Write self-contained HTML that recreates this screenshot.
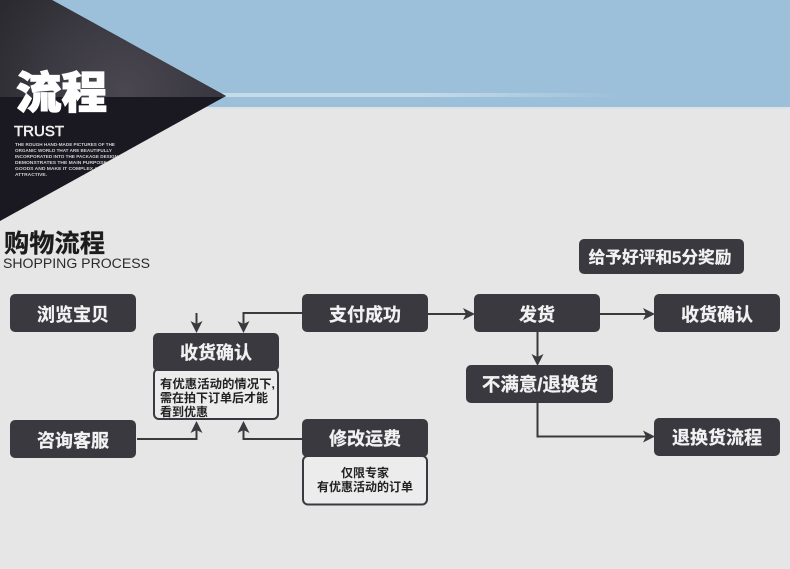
<!DOCTYPE html>
<html><head><meta charset="utf-8"><style>
html,body{margin:0;padding:0;background:#e6e6e6;width:790px;height:569px;overflow:hidden}
svg{display:block}
text{font-family:"Liberation Sans","Noto Sans CJK SC",sans-serif}
.b{font-weight:700;font-size:18px;fill:#f2f2f2;text-anchor:middle;stroke:#f2f2f2;stroke-width:.25px}
.n{font-weight:700;font-size:12px;fill:#222;}
.s{font-size:4.6px;fill:#cfcfd2;font-weight:700}
.box{fill:#3a3940}
.note{fill:#ececec;stroke:#3a3940;stroke-width:2}
.l{fill:none;stroke:#3a3a3e;stroke-width:2}
.a{fill:#3a3a3e}
</style></head><body>
<svg width="790" height="569" viewBox="0 0 790 569" xmlns="http://www.w3.org/2000/svg">
<defs>
<radialGradient id="g" gradientUnits="userSpaceOnUse" cx="125" cy="92" r="150">
<stop offset="0" stop-color="#4a4750"/><stop offset=".55" stop-color="#3a3840"/><stop offset="1" stop-color="#2b2a30"/>
</radialGradient>
<linearGradient id="st" x1="0" x2="1" y1="0" y2="0">
<stop offset="0" stop-color="#c4dbe9"/><stop offset=".5" stop-color="#c4dbe9"/><stop offset="1" stop-color="#9cc0d9"/>
</linearGradient>
<clipPath id="tri"><polygon points="0,0 52,0 226,96 0,221"/></clipPath>
</defs>
<rect width="790" height="569" fill="#e6e6e6"/>
<rect width="790" height="108" fill="#9cc0d9"/>
<rect y="107" width="790" height="2" fill="#dbe3e9"/>
<rect x="222" y="93" width="400" height="4" fill="url(#st)"/>
<polygon points="0,0 52,0 226,96 0,221" fill="#1a1820"/>
<polygon points="0,0 52,0 226,96 224,97 0,97" fill="url(#g)"/>
<text x="16" y="108" font-size="44" font-weight="900" fill="#fff" stroke="#fff" stroke-width="1.2" textLength="91" lengthAdjust="spacingAndGlyphs">流程</text>
<text x="14" y="136" font-size="15" fill="#eee" stroke="#eee" stroke-width=".6" textLength="50" lengthAdjust="spacingAndGlyphs">TRUST</text>
<g clip-path="url(#tri)">
<text class="s" x="15" y="146" textLength="100" lengthAdjust="spacingAndGlyphs">THE ROUGH HAND-MADE PICTURES OF THE</text>
<text class="s" x="15" y="152" textLength="97" lengthAdjust="spacingAndGlyphs">ORGANIC WORLD THAT ARE BEAUTIFULLY</text>
<text class="s" x="15" y="158" textLength="103" lengthAdjust="spacingAndGlyphs">INCORPORATED INTO THE PACKAGE DESIGN</text>
<text class="s" x="15" y="164" textLength="100" lengthAdjust="spacingAndGlyphs">DEMONSTRATES THE MAIN PURPOSE OF</text>
<text class="s" x="15" y="170" textLength="90" lengthAdjust="spacingAndGlyphs">GOODS AND MAKE IT COMPLEX AND</text>
<text class="s" x="15" y="176" textLength="32" lengthAdjust="spacingAndGlyphs">ATTRACTIVE.</text>
</g>

<text x="4" y="252" font-size="25" font-weight="700" fill="#1c1c1c" stroke="#1c1c1c" stroke-width=".3" textLength="101" lengthAdjust="spacingAndGlyphs">购物流程</text>
<text x="3" y="268" font-size="13.5" fill="#2a2a2a" textLength="147" lengthAdjust="spacingAndGlyphs">SHOPPING PROCESS</text>

<!-- connectors -->
<path class="l" d="M196.500 313V326"/><polygon class="a" points="190.500,321 196.500,324 202.500,321 196.500,333"/>
<path class="l" d="M302 313H243.500V326"/><polygon class="a" points="237.500,321 243.500,324 249.500,321 243.500,333"/>
<path class="l" d="M137 439H196.500V428"/><polygon class="a" points="190.500,433 196.500,430 202.500,433 196.500,421"/>
<path class="l" d="M302 439H243.500V428"/><polygon class="a" points="237.500,433 243.500,430 249.500,433 243.500,421"/>
<path class="l" d="M428 314H468"/><polygon class="a" points="463,308 466,314 463,320 475,314"/>
<path class="l" d="M600 314H648"/><polygon class="a" points="643,308 646,314 643,320 655,314"/>
<path class="l" d="M537.500 332V359"/><polygon class="a" points="531.500,354 537.500,357 543.500,354 537.500,366"/>
<path class="l" d="M537.500 403V436.500H648"/><polygon class="a" points="643,430.500 646,436.500 643,442.500 655,436.500"/>

<!-- boxes -->
<rect class="box" x="10" y="294" width="126" height="38" rx="5"/>
<text class="b" x="73" y="321">浏览宝贝</text>
<rect class="box" x="302" y="294" width="126" height="38" rx="5"/>
<text class="b" x="365" y="321">支付成功</text>
<rect class="box" x="474" y="294" width="126" height="38" rx="5"/>
<text class="b" x="537" y="321">发货</text>
<rect class="box" x="654" y="294" width="126" height="38" rx="5"/>
<text class="b" x="717" y="321">收货确认</text>
<rect class="box" x="579" y="239" width="165" height="35" rx="5"/>
<text class="b" x="660" y="263" style="font-size:16.700px">给予好评和5分奖励</text>

<rect class="note" x="154" y="369" width="124" height="50" rx="5"/>
<rect class="box" x="153" y="333" width="126" height="38" rx="5"/>
<text class="b" x="216" y="359">收货确认</text>
<text class="n" x="160" y="388" textLength="115" lengthAdjust="spacingAndGlyphs">有优惠活动的情况下,</text>
<text class="n" x="160" y="402">需在拍下订单后才能</text>
<text class="n" x="160" y="416">看到优惠</text>

<rect class="box" x="10" y="420" width="126" height="38" rx="5"/>
<text class="b" x="73" y="447">咨询客服</text>

<rect class="note" x="303" y="456" width="124" height="48.500" rx="5"/>
<rect class="box" x="302" y="419" width="126" height="38" rx="5"/>
<text class="b" x="365" y="445">修改运费</text>
<text class="n" x="365" y="477" text-anchor="middle">仅限专家</text>
<text class="n" x="365" y="491" text-anchor="middle">有优惠活动的订单</text>

<rect class="box" x="466" y="365" width="147" height="38" rx="5"/>
<text class="b" x="540" y="391" style="font-size:18.500px">不满意/退换货</text>
<rect class="box" x="654" y="418" width="126" height="38" rx="5"/>
<text class="b" x="717" y="444">退换货流程</text>
</svg>
</body></html>
